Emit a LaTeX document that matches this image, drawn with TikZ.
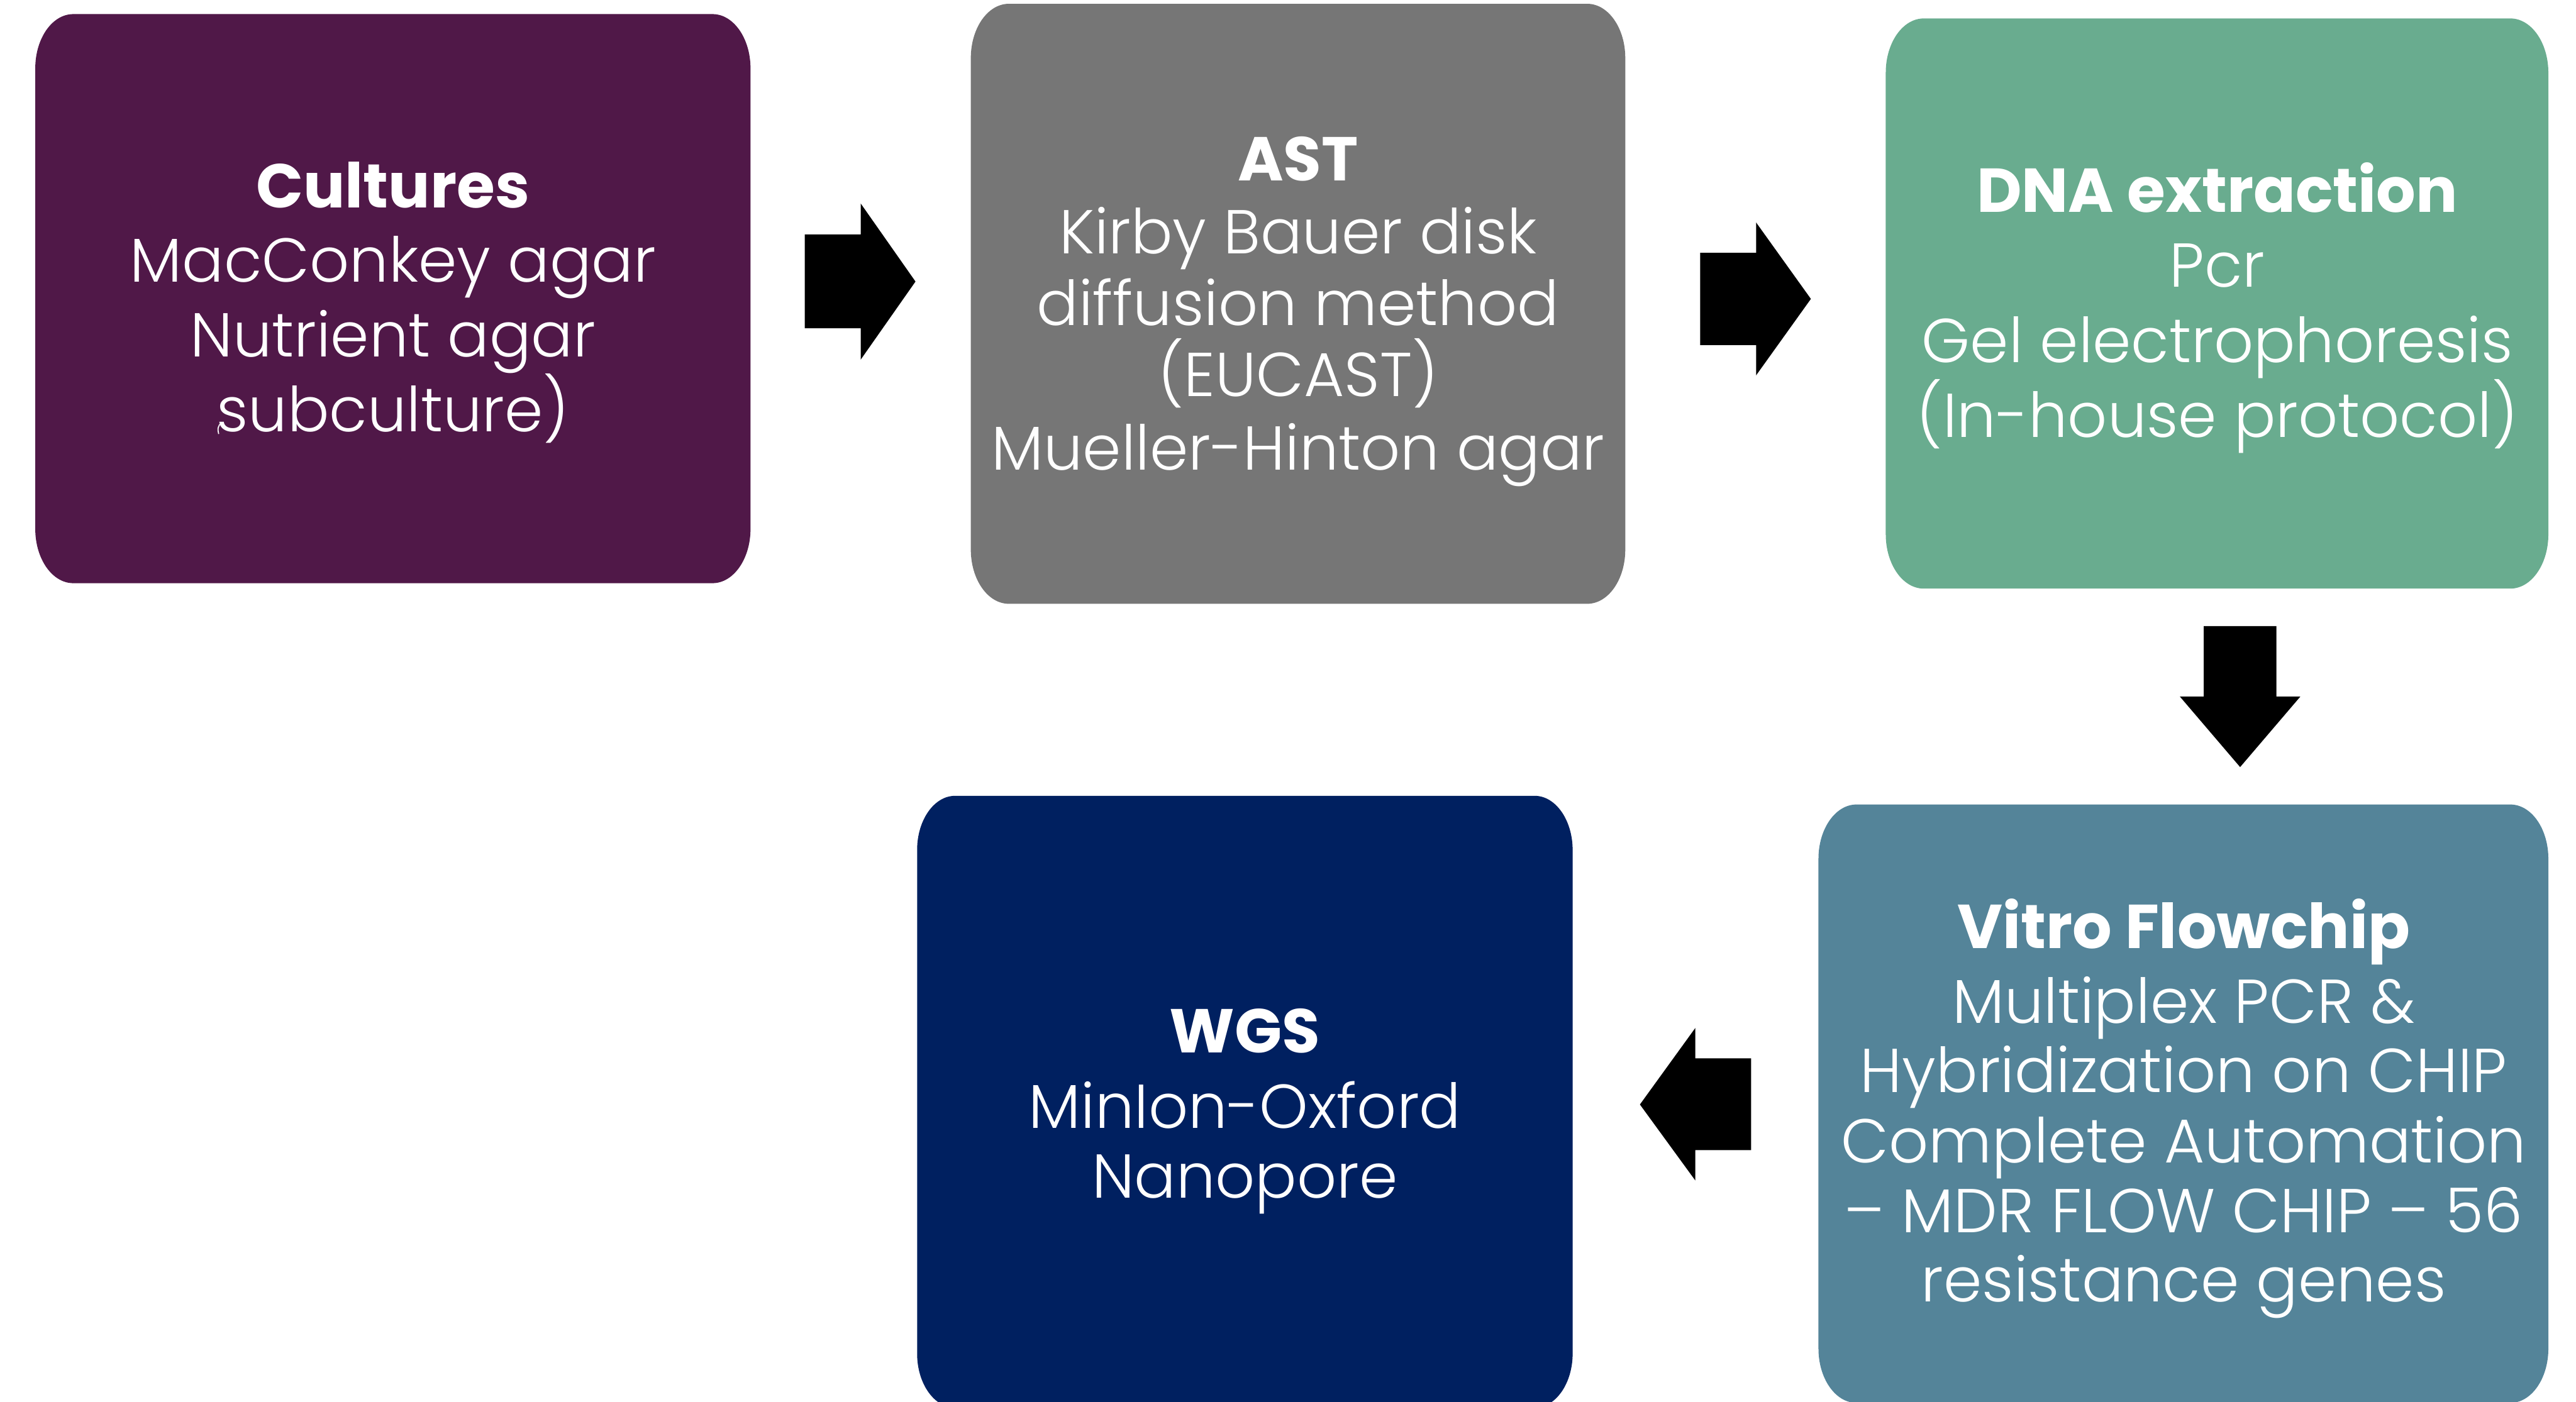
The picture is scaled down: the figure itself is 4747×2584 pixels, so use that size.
\documentclass[tikz,border=0pt]{standalone}
\usepackage{fontspec}
\setmainfont{Poppins}[UprightFont={* Light}, BoldFont={* Bold}]
\definecolor{cpurple}{HTML}{501848}
\definecolor{cgray}{HTML}{767676}
\definecolor{cgreen}{HTML}{69AC8F}
\definecolor{cteal}{HTML}{548499}
\definecolor{cnavy}{HTML}{002060}
% rounded box with elliptical corners, image pixel coordinates (y down)
\newcommand\rbox[6]{%
  \fill[#6] ({#2+70},{#3}) -- ({#4-70},{#3})
    arc[start angle=90,end angle=0,x radius=7mm,y radius=10mm]
    -- ({#4},{#5-100})
    arc[start angle=0,end angle=-90,x radius=7mm,y radius=10mm]
    -- ({#2+70},{#5})
    arc[start angle=-90,end angle=-180,x radius=7mm,y radius=10mm]
    -- ({#2},{#3+100})
    arc[start angle=180,end angle=90,x radius=7mm,y radius=10mm] -- cycle;
  \node[inner sep=0pt, minimum width={(#4-(#2))*0.1mm}, minimum height={(#5-(#3))*0.1mm}] (#1) at ({(#2+#4)/2},{(#3+#5)/2}) {};
}
\tikzset{
  txt/.style={text=white, inner sep=0pt, anchor=base, font=\fontsize{32.5}{40}\selectfont},
  hd/.style={txt, font=\fontsize{32.5}{40}\selectfont\bfseries},
  blockarrow/.style={fill=black},
}
\begin{document}
\begin{tikzpicture}[x=0.1mm,y=-0.1mm]
\useasboundingbox (0,0) rectangle (4747,2584);
\clip (0,0) rectangle (4747,2584);
\fill[white] (0,0) rectangle (4747,2584);

% boxes
\rbox{b1}{65}{26}{1383}{1075}{cpurple}
\rbox{b2}{1789}{7}{2995}{1113}{cgray}
\rbox{b3}{3475}{34}{4696}{1085}{cgreen}
\rbox{b4}{3351}{1483}{4696}{2586}{cteal}
\rbox{b5}{1690}{1467}{2898}{2595}{cnavy}

% texts box 1
\node[hd] (t1a) at (724,383) {Cultures};
\node[txt] (t1b) at (724,520) {MacConkey agar};
\node[txt] (t1c) at (724,658) {Nutrient agar};
\node[txt] (t1d) at (724,796) {subculture)};
\draw[white, line width=0.2mm] (405,782) .. controls (401,790) .. (403,800);

% texts box 2
\node[hd] (t2a) at (2392,333) {AST};
\node[txt] (t2b) at (2392,468) {Kirby Bauer disk};
\node[txt] (t2c) at (2392,600) {diffusion method};
\node[txt] (t2d) at (2392,731) {(EUCAST)};
\node[txt] (t2e) at (2392,866) {Mueller-Hinton agar};

% texts box 3
\node[hd] (t3a) at (4086,391) {DNA extraction};
\node[txt] (t3b) at (4086,529) {Pcr};
\node[txt] (t3c) at (4086,668) {Gel electrophoresis};
\node[txt] (t3d) at (4086,806) {(In-house protocol)};

% texts box 4
\node[hd] (t4a) at (4024,1748) {Vitro Flowchip};
\node[txt] (t4b) at (4024,1886) {Multiplex PCR \&};
\node[txt] (t4c) at (4024,2014) {Hybridization on CHIP};
\node[txt] (t4d) at (4024,2143) {Complete Automation};
\node[txt] (t4e) at (4024,2272) {– MDR FLOW CHIP – 56};
\node[txt] (t4f) at (4024,2399) {resistance genes};

% texts box 5
\node[hd] (t5a) at (2294,1941) {WGS};
\node[txt] (t5b) at (2294,2080) {MinIon-Oxford};
\node[txt] (t5c) at (2294,2208) {Nanopore};

% block arrows
\fill[blockarrow] (1483,432) -- (1586,432) -- (1586,375) -- (1687,519) -- (1586,663) -- (1586,605) -- (1483,605) -- cycle;
\fill[blockarrow] (3133,466) -- (3236,466) -- (3236,410) -- (3337,551) -- (3236,692) -- (3236,636) -- (3133,636) -- cycle;
\fill[blockarrow] (4061,1154) -- (4195,1154) -- (4195,1284) -- (4239,1284) -- (4128,1414) -- (4017,1284) -- (4061,1284) -- cycle;
\fill[blockarrow] (3227,1951) -- (3124,1951) -- (3124,1895) -- (3022,2036) -- (3124,2176) -- (3124,2120) -- (3227,2120) -- cycle;
\end{tikzpicture}
\end{document}
